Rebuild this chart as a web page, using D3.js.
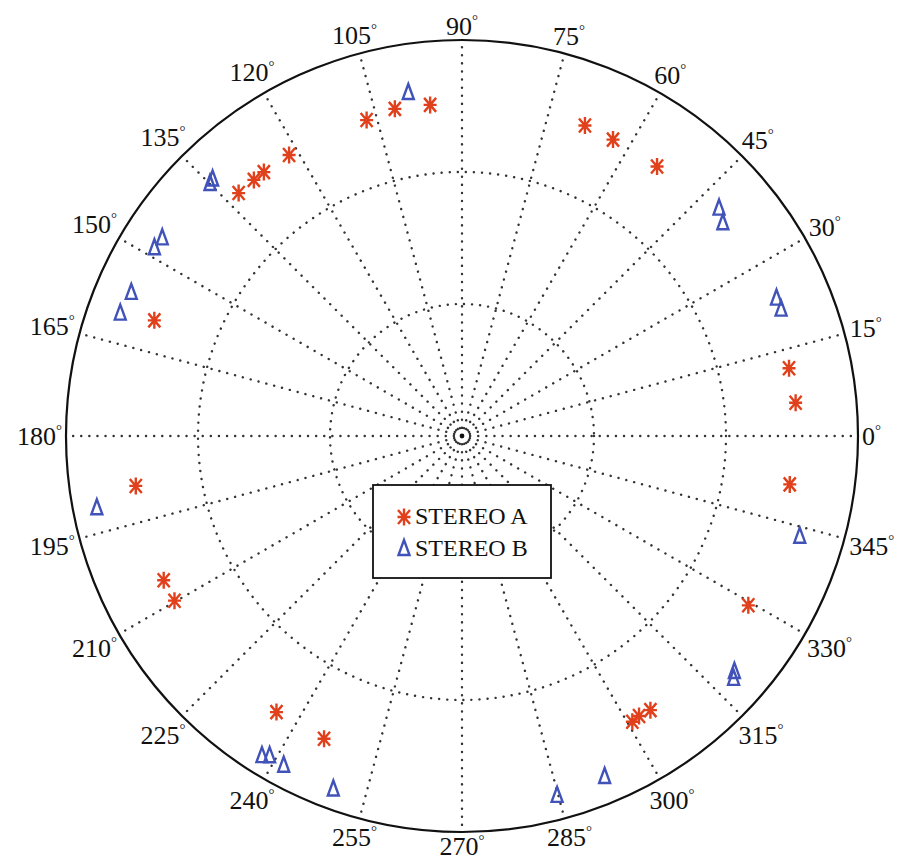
<!DOCTYPE html>
<html>
<head>
<meta charset="utf-8">
<script src="https://cdn.jsdelivr.net/npm/d3@7/dist/d3.min.js"></script>
<style>
  html, body { margin: 0; padding: 0; background: #fff; }
  svg { display: block; }
</style>
</head>
<body>
<svg id="chart" width="900" height="864"></svg>
<script>
// STEREO A / B positions, polar plot (angle in degrees, radius in plot units)
const angleTicks = d3.range(0, 360, 15);
const ringValues = [1, 2];
const rMax = 3;

const stereoA_angle = [5.7, 11.7, 54.1, 63.0, 68.4, 95.5, 101.6, 106.8, 121.6, 126.9, 129.1, 132.6,
  159.4, 188.7, 205.8, 209.8, 236.1, 245.5, 300.8, 302.3, 304.5, 329.4, 351.6];
const stereoA_r = [2.54, 2.53, 2.52, 2.52, 2.53, 2.52, 2.53, 2.50, 2.50, 2.50, 2.50, 2.50,
  2.49, 2.50, 2.51, 2.51, 2.52, 2.52, 2.52, 2.51, 2.52, 2.52, 2.51];

const stereoB_angle = [21.6, 23.6, 39.2, 41.5, 98.9, 134.2, 135.0, 146.6, 148.6, 156.6, 160.3,
  191.2, 238.0, 239.0, 241.6, 250.0, 284.8, 292.7, 318.2, 319.1, 343.4];
const stereoB_r = [2.60, 2.60, 2.55, 2.60, 2.63, 2.71, 2.70, 2.72, 2.73, 2.73, 2.75,
  2.82, 2.86, 2.83, 2.84, 2.85, 2.82, 2.80, 2.76, 2.73, 2.67];

const seriesNames = ['STEREO A', 'STEREO B'];

(function () {
  const svg = d3.select('#chart');
  const cx = 462, cy = 436, R = 396;
  const redCol = '#e0401b', blueCol = '#4152b8';
  const fontFam = '"Liberation Serif", "DejaVu Serif", serif';

  const rScale = d3.scaleLinear().domain([0, rMax]).range([0, R]);
  const toRad = a => a * Math.PI / 180;
  const px = (a, r) => cx + rScale(r) * Math.cos(toRad(a));
  const py = (a, r) => cy - rScale(r) * Math.sin(toRad(a));

  const g = svg.append('g');

  // dotted rings
  g.selectAll('circle.ring').data(ringValues).join('circle')
    .attr('class', 'ring')
    .attr('cx', cx).attr('cy', cy).attr('r', d => rScale(d))
    .attr('fill', 'none').attr('stroke', '#333')
    .attr('stroke-width', 2.4).attr('stroke-linecap', 'round')
    .attr('stroke-dasharray', '0.1 8');

  // dotted spokes
  g.selectAll('line.spoke').data(angleTicks).join('line')
    .attr('class', 'spoke')
    .attr('x1', cx).attr('y1', cy)
    .attr('x2', d => px(d, rMax * 0.985)).attr('y2', d => py(d, rMax * 0.985))
    .attr('stroke', '#333').attr('stroke-width', 2.4)
    .attr('stroke-linecap', 'round').attr('stroke-dasharray', '0.1 8');

  g.append('circle').attr('cx', cx).attr('cy', cy).attr('r', 2.4).attr('fill', '#111');

  // outer circle
  g.append('circle')
    .attr('cx', cx).attr('cy', cy).attr('r', rScale(rMax))
    .attr('fill', 'none').attr('stroke', '#111').attr('stroke-width', 2.2);

  // angle labels
  const lbl = g.selectAll('text.ang').data(angleTicks).join('text')
    .attr('class', 'ang')
    .attr('font-family', fontFam).attr('font-size', 26).attr('fill', '#111')
    .attr('text-anchor', 'middle');
  lbl.append('tspan').text(d => d);
  lbl.append('tspan').attr('font-size', 15).attr('dy', -10).text('°');
  lbl.each(function (d) {
    const el = d3.select(this);
    const w = this.getComputedTextLength();
    const h = 20;
    const a = toRad(d);
    const dist = R + 4 + Math.abs(Math.cos(a)) * w / 2 + Math.abs(Math.sin(a)) * h / 2;
    el.attr('x', cx + dist * Math.cos(a))
      .attr('y', cy - dist * Math.sin(a) + 9);
  });

  // markers
  const starPath = () => 'M0,-8.5L0,8.5M-6.5,0L6.5,0M-6,-7L6,7M-6,7L6,-7';
  const triPath = (w, h) => `M0,${-h * 0.6}L${w / 2},${h * 0.4}L${-w / 2},${h * 0.4}Z`;

  const dataA = stereoA_angle.map((a, i) => ({ a, r: stereoA_r[i] }));
  const dataB = stereoB_angle.map((a, i) => ({ a, r: stereoB_r[i] }));

  g.selectAll('path.ptA').data(dataA).join('path')
    .attr('class', 'ptA')
    .attr('transform', d => `translate(${px(d.a, d.r)},${py(d.a, d.r)})`)
    .attr('d', starPath())
    .attr('fill', 'none').attr('stroke', redCol).attr('stroke-width', 2.4);

  g.selectAll('path.ptB').data(dataB).join('path')
    .attr('class', 'ptB')
    .attr('transform', d => `translate(${px(d.a, d.r)},${py(d.a, d.r)})`)
    .attr('d', triPath(11, 15))
    .attr('fill', 'none').attr('stroke', blueCol).attr('stroke-width', 2.4)
    .attr('stroke-linejoin', 'miter');

  // legend
  const leg = svg.append('g').attr('transform', 'translate(373,485)');
  leg.append('rect').attr('width', 178).attr('height', 93)
    .attr('fill', '#fff').attr('stroke', '#111').attr('stroke-width', 1.8);
  const rows = leg.selectAll('g.row').data(seriesNames).join('g')
    .attr('class', 'row')
    .attr('transform', (d, i) => `translate(0,${32 + i * 32})`);
  rows.append('path')
    .attr('transform', 'translate(31,0)')
    .attr('d', (d, i) => i === 0 ? starPath() : triPath(11, 15))
    .attr('fill', 'none')
    .attr('stroke', (d, i) => i === 0 ? redCol : blueCol)
    .attr('stroke-width', 2.4);
  rows.append('text')
    .attr('x', 42).attr('y', 7)
    .attr('font-family', fontFam).attr('font-size', 24).attr('fill', '#111')
    .text(d => d);
})();
</script>
</body>
</html>
